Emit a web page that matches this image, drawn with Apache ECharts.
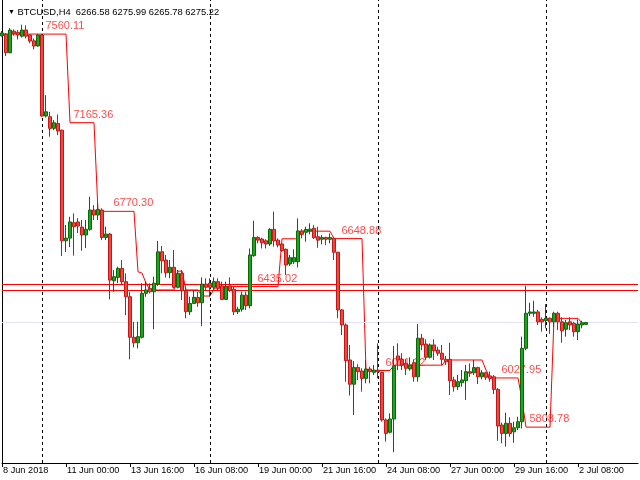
<!DOCTYPE html>
<html>
<head>
<meta charset="utf-8">
<script src="https://cdn.jsdelivr.net/npm/echarts@6/dist/echarts.min.js"></script>
<style>html,body{margin:0;padding:0;background:#fff}#c{width:640px;height:480px}</style>
</head>
<body>
<div id="c"></div>
<script>
// ---- data ----
const symbolTitle = 'BTCUSD,H4';
const lastOHLC = ['6266.58', '6275.99', '6265.78', '6275.22'];
const startTime = Date.UTC(2018, 5, 8, 8, 0); // first H4 bar
const barCount = 160; // visible slots incl. chart shift
// [open, close, low, high]
const candles = [
[7553,7565,7549,7574],[7560,7477,7462,7565],[7477,7578,7475,7587],[7573,7563,7553,7581],[7568,7556,7536,7578],
[7551,7578,7545,7602],[7578,7551,7541,7599],[7556,7529,7519,7558],[7530,7507,7492,7541],[7507,7556,7504,7560],
[7556,7195,7192,7560],[7195,7214,7189,7288],[7192,7140,7103,7214],[7140,7165,7132,7177],[7162,7128,7110,7202],
[7132,6639,6571,7134],[6639,6651,6589,6709],[6651,6723,6611,6746],[6720,6702,6573,6761],[6723,6705,6674,6740],
[6700,6665,6595,6732],[6665,6690,6607,6732],[6690,6776,6684,6835],[6776,6754,6732,6798],[6754,6779,6732,6807],
[6776,6654,6642,6784],[6654,6669,6642,6702],[6669,6464,6378,6674],[6461,6479,6412,6509],[6476,6516,6450,6524],
[6516,6457,6446,6553],[6457,6390,6308,6494],[6390,6209,6111,6412],[6209,6185,6164,6278],[6185,6212,6160,6278],
[6209,6405,6204,6450],[6405,6420,6390,6457],[6427,6412,6405,6450],[6412,6450,6245,6479],[6446,6590,6438,6638],
[6590,6550,6494,6616],[6553,6497,6476,6576],[6497,6521,6472,6553],[6521,6432,6427,6598],[6432,6494,6427,6509],
[6494,6417,6375,6509],[6417,6323,6294,6434],[6323,6360,6308,6390],[6360,6387,6357,6417],[6387,6363,6345,6412],
[6363,6446,6259,6476],[6446,6432,6420,6472],[6450,6432,6390,6472],[6432,6457,6420,6476],[6457,6427,6417,6472],
[6438,6378,6375,6457],[6378,6434,6375,6457],[6438,6417,6412,6476],[6423,6323,6308,6434],[6323,6334,6313,6345],
[6334,6397,6323,6412],[6397,6350,6331,6412],[6350,6576,6338,6605],[6573,6654,6568,6728],[6654,6642,6628,6660],
[6647,6630,6605,6653],[6639,6625,6605,6646],[6625,6690,6616,6695],[6690,6639,6613,6769],[6642,6620,6610,6650],
[6625,6595,6590,6628],[6601,6531,6487,6605],[6536,6564,6527,6576],[6546,6564,6536,6601],[6546,6683,6520,6739],
[6683,6668,6650,6691],[6677,6690,6635,6702],[6683,6691,6668,6717],[6695,6653,6647,6709],[6657,6642,6608,6702],
[6646,6654,6623,6665],[6654,6646,6620,6657],[6646,6654,6628,6672],[6650,6588,6553,6657],[6588,6331,6294,6590],
[6331,6264,6219,6335],[6264,6105,6011,6271],[6108,6000,5949,6175],[6000,6075,5863,6103],[6075,6056,6019,6089],
[6059,6026,5967,6071],[6026,6068,6004,6108],[6068,6056,6004,6078],[6053,6063,6041,6086],[6063,6056,6026,6182],
[6053,5841,5833,6056],[5841,5781,5744,5848],[5786,5845,5781,5870],[5845,6082,5697,6170],[6126,6108,6063,6182],
[6111,6086,6063,6138],[6093,6071,6041,6111],[6068,6086,6060,6120],[6096,6033,6011,6111],[6033,6205,6011,6268],
[6205,6175,6152,6224],[6179,6120,6108,6200],[6120,6175,6115,6182],[6175,6149,6108,6200],[6152,6138,6126,6167],
[6138,6111,6086,6175],[6111,6100,6086,6126],[6111,6016,5952,6185],[6019,5989,5967,6033],[5989,6011,5974,6041],
[6007,6019,5989,6063],[6016,6056,5930,6086],[6056,6049,6033,6093],[6051,6074,6041,6108],[6074,6033,6001,6078],
[6033,6051,6022,6063],[6051,6031,6019,6056],[6037,6026,6011,6056],[6033,5977,5956,6041],[5977,5814,5748,5983],
[5818,5781,5737,5829],[5781,5826,5722,5873],[5826,5781,5766,5853],[5788,5806,5739,5833],[5806,5833,5796,5855],
[5833,6160,5803,6212],[6160,6316,6152,6438],[6316,6322,6304,6363],[6316,6322,6301,6372],[6322,6278,6264,6331],
[6289,6278,6234,6298],[6283,6294,6249,6357],[6294,6278,6224,6298],[6278,6316,6256,6323],[6316,6278,6241,6323],
[6278,6238,6185,6298],[6245,6274,6212,6286],[6278,6264,6241,6298],[6271,6234,6212,6278],[6234,6268,6197,6289],
[6264,6274,6249,6283],[6266.58,6275.22,6265.78,6275.99]
];
// step indicator line, one value per bar
const stepLine = [
7560.11,7560.11,7560.11,7560.11,7560.11,7560.11,7560.11,7560.11,7560.11,7560.11,
7560.11,7560.11,7560.11,7560.11,7560.11,7560.11,7560.11,7165.36,7165.36,7165.36,
7165.36,7165.36,7165.36,7165.36,6770.30,6770.30,6770.30,6770.30,6770.30,6770.30,
6770.30,6770.30,6770.30,6770.30,6501,6495,6451,6420,6420,6420,
6420,6420,6420,6420,6504,6504,6420,6420,6420,6420,
6393,6393,6393,6424,6435.02,6435.02,6435.02,6435.02,6435.02,6435.02,
6435.02,6435.02,6435.02,6435.02,6435.02,6435.02,6435.02,6435.02,6435.02,6435.02,
6648,6648,6648,6648,6648,6682,6682,6682,6682,6682,
6682,6682,6682,6648.88,6648.88,6648.88,6648.88,6648.88,6648.88,6648.88,
6648.88,6061.12,6061.12,6061.12,6061.12,6061.12,6061.12,6061.12,6085,6085,
6085,6085,6085,6085,6085,6085,6085,6085,6085,6085,
6085,6108,6108,6108,6108,6108,6108,6108,6108,6108,
6108,6063,6027.95,6027.95,6027.95,6027.95,6027.95,6027.95,6027.95,6027.95,
5930,5808.78,5808.78,5808.78,5808.78,5808.78,5808.78,5808.78,6293.6,6293.6,
6293.6,6293.6,6293.6,6293.6,6293.6,6272,6272
];
// level labels: [bar index, level, text]
const levelLabels = [
[11,7560.11,'7560.11'],[18,7165.36,'7165.36'],[28,6770.30,'6770.30'],[64,6435.02,'6435.02'],
[85,6648.88,'6648.88'],[96,6061.12,'6061.12'],[125,6027.95,'6027.95'],[132,5808.78,'5808.78']
];
const redLevels = [6445.0, 6418.3];
const bidPrice = 6275.22;
const separators = [10, 52, 94, 136]; // Sunday 00:00 bars
const yMin = 5649, yMax = 7712;

// ---- build ----
const MON = ['Jan','Feb','Mar','Apr','May','Jun','Jul','Aug','Sep','Oct','Nov','Dec'];
const pad = n => (n < 10 ? '0' : '') + n;
const categories = [];
for (let i = 0; i < barCount; i++) {
  const d = new Date(startTime + i * 4 * 3600 * 1000);
  categories.push(i === 0
    ? d.getUTCDate() + ' ' + MON[d.getUTCMonth()] + ' ' + d.getUTCFullYear()
    : d.getUTCDate() + ' ' + MON[d.getUTCMonth()] + ' ' + pad(d.getUTCHours()) + ':' + pad(d.getUTCMinutes()));
}
const showEvery = (idx) => idx % 16 === 0;
const font = 'Liberation Sans, Arial, sans-serif';

const chart = echarts.init(document.getElementById('c'), null, {renderer: 'canvas'});
chart.setOption({
  animation: false,
  backgroundColor: '#ffffff',
  title: {
    text: '{a|▼} ' + symbolTitle + '  ' + lastOHLC.join(' '),
    left: 3, top: 3,
    textStyle: {fontSize: 9.4, fontWeight: 'normal', color: '#000', fontFamily: font,
      rich: {a: {fontSize: 7, color: '#000'}}}
  },
  grid: {left: 2, right: 2, top: 0, bottom: 17, containLabel: false},
  xAxis: {
    type: 'category', data: categories, boundaryGap: false,
    axisLine: {show: true, lineStyle: {color: '#000', width: 1}},
    axisTick: {show: true, length: 4, interval: (i) => showEvery(i), lineStyle: {color: '#000'}},
    axisLabel: {show: true, interval: (i) => showEvery(i), align: 'left', margin: 3,
      fontSize: 9.2, color: '#000', fontFamily: font, padding: [0, 0, 0, 1]},
    splitLine: {show: false}
  },
  yAxis: {
    type: 'value', min: yMin, max: yMax, scale: true,
    axisLine: {show: true, lineStyle: {color: '#000', width: 1}},
    axisTick: {show: false}, axisLabel: {show: false}, splitLine: {show: false}
  },
  series: [
    {
      type: 'line', data: stepLine, showSymbol: false, symbol: 'none', z: 2,
      lineStyle: {color: '#ff0000', width: 1}, clip: false,
      markLine: {
        silent: true, symbol: 'none', label: {show: false},
        data: [
          ...redLevels.map(v => ({yAxis: v, lineStyle: {color: '#ff0000', width: 1, type: 'solid'}})),
          {yAxis: bidPrice, lineStyle: {color: '#e2e2f4', width: 1, type: 'solid'}},
          ...separators.map(i => ({xAxis: i, lineStyle: {color: '#000', width: 1, type: [3, 3]}}))
        ]
      }
    },
    {
      type: 'scatter', z: 3, symbolSize: 1, itemStyle: {color: 'rgba(0,0,0,0)'},
      data: levelLabels.map(r => [r[0], r[1], r[2]]),
      label: {show: true, position: [0, -13], formatter: p => p.data[2],
        color: '#ff1e1e', fontSize: 11, fontFamily: font}
    },
    {
      type: 'candlestick', z: 5, data: candles, barWidth: 3, clip: false,
      itemStyle: {color: '#1ea51e', color0: '#f2463a', borderColor: '#0a680a', borderColor0: '#c0181a', borderWidth: 1}
    }
  ]
});
</script>
</body>
</html>
